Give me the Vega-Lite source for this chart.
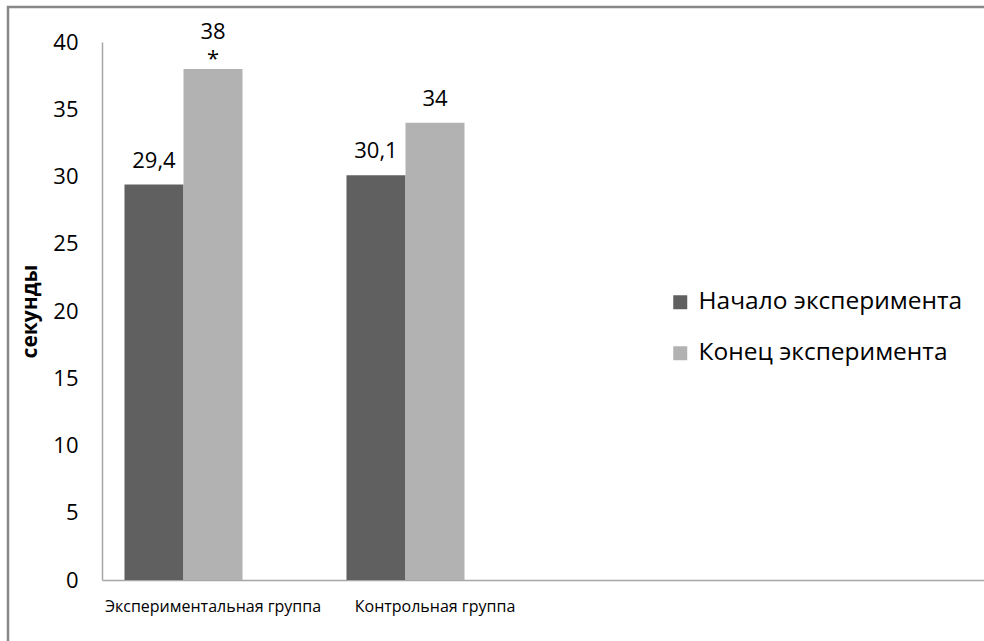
{
  "$schema": "https://vega.github.io/schema/vega-lite/v6.json",
  "autosize": {"type": "none"},
  "padding": {"left": 8, "top": 7, "right": -6, "bottom": -9},
  "width": 982,
  "height": 643,
  "background": "white",
  "config": {
    "font": "Open Sans",
    "view": {"stroke": "#878787", "strokeWidth": 2.5, "fill": "white"},
    "axis": {"labelColor": "#000000", "titleColor": "#000000", "labelFont": "Open Sans", "titleFont": "Open Sans"},
    "legend": {"labelFont": "Open Sans", "labelColor": "#000000"}
  },
  "data": {
    "values": [
      {"group": "Экспериментальная группа", "series": "Начало эксперимента", "value": 29.4, "label": "29,4", "significant": false},
      {"group": "Экспериментальная группа", "series": "Конец эксперимента", "value": 38, "label": "38\n*", "significant": true},
      {"group": "Контрольная группа", "series": "Начало эксперимента", "value": 30.1, "label": "30,1", "significant": false},
      {"group": "Контрольная группа", "series": "Конец эксперимента", "value": 34, "label": "34", "significant": false}
    ]
  },
  "encoding": {
    "x": {
      "field": "group",
      "type": "nominal",
      "sort": null,
      "scale": {
        "domain": ["Экспериментальная группа", "Контрольная группа", " ", "  "],
        "range": [94, 982],
        "paddingInner": 0,
        "paddingOuter": 0
      },
      "axis": {
        "orient": "bottom",
        "offset": -70,
        "title": null,
        "ticks": false,
        "labelAngle": 0,
        "labelFontSize": 16,
        "labelLimit": 0,
        "labelPadding": 18,
        "domainColor": "#a6a6a6",
        "domainWidth": 1.5
      }
    },
    "xOffset": {
      "field": "series",
      "type": "nominal",
      "scale": {
        "domain": ["Начало эксперимента", "Конец эксперимента", " "],
        "paddingInner": 0,
        "paddingOuter": 0.381
      }
    },
    "y": {
      "field": "value",
      "type": "quantitative",
      "scale": {"domain": [0, 40], "range": [573, 35], "nice": false, "zero": true},
      "axis": {
        "orient": "left",
        "offset": -94,
        "values": [0, 5, 10, 15, 20, 25, 30, 35, 40],
        "grid": false,
        "ticks": false,
        "labelFontSize": 22,
        "labelPadding": 24,
        "domainColor": "#a6a6a6",
        "domainWidth": 1.5,
        "title": "секунды",
        "titleFontSize": 21,
        "titleFontWeight": "bold",
        "titlePadding": 12
      }
    }
  },
  "layer": [
    {
      "mark": {"type": "bar"},
      "encoding": {
        "color": {
          "field": "series",
          "type": "nominal",
          "scale": {
            "domain": ["Начало эксперимента", "Конец эксперимента"],
            "range": ["#606060", "#b2b2b2"]
          },
          "legend": {
            "orient": "none",
            "legendX": 660,
            "legendY": 283,
            "title": null,
            "symbolType": "square",
            "symbolSize": 196,
            "symbolStrokeWidth": 0,
            "labelFontSize": 24.5,
            "labelLimit": 0,
            "labelOffset": 6,
            "rowPadding": 26,
            "padding": 0
          }
        }
      }
    },
    {
      "transform": [{"filter": "!datum.significant"}],
      "mark": {
        "type": "text",
        "baseline": "middle",
        "dy": -24,
        "fontSize": 22,
        "color": "#000000"
      },
      "encoding": {
        "text": {"field": "label"}
      }
    },
    {
      "transform": [{"filter": "datum.significant"}],
      "mark": {
        "type": "text",
        "baseline": "middle",
        "dy": -37,
        "lineBreak": "\n",
        "lineHeight": 27,
        "fontSize": 22,
        "color": "#000000"
      },
      "encoding": {
        "text": {"field": "label"}
      }
    }
  ]
}
